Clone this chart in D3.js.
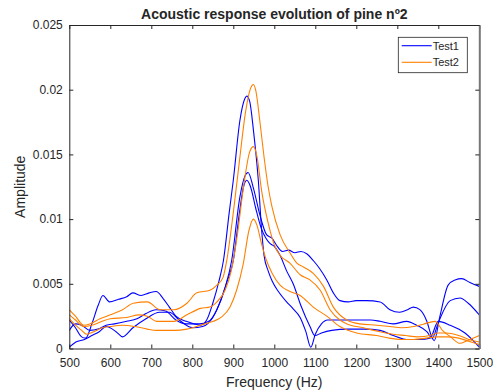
<!DOCTYPE html>
<html>
<head>
<meta charset="utf-8">
<script src="https://cdn.jsdelivr.net/npm/d3@7"></script>
<style>
  body { margin: 0; background: #fff; }
  text { font-family: Arial, "Liberation Sans", sans-serif; fill: #262626; }
</style>
</head>
<body>
<div id="chart"></div>
<script>
// tick values / labels
const freqTicks = [500, 600, 700, 800, 900, 1000, 1100, 1200, 1300, 1400, 1500];
const ampTicks = [0, 0.005, 0.01, 0.015, 0.02, 0.025];
const ampTickLabels = ["0", "0.005", "0.01", "0.015", "0.02", "0.025"];
const legendLabels = ["Test1", "Test2"];

// Test1 runs: [frequency Hz, amplitude]
const test1Run1 = [[500,0.0022],[515,0.0016],[530,0.0009],[540,0.0008],[555,0.0019],[570,0.0033],[582,0.0041],[598,0.0036],[620,0.0038],[640,0.004],[655,0.0043],[675,0.0041],[695,0.0043],[712,0.0044],[728,0.0039],[744,0.0032],[760,0.0025],[785,0.0021],[805,0.0019],[820,0.0018],[835,0.0022],[850,0.0035],[865,0.0052],[876,0.0068],[890,0.0105],[900,0.013],[916,0.0176],[928,0.0193],[933,0.0195],[940,0.0191],[949,0.0169],[961,0.013],[969,0.0092],[975,0.0072],[985,0.006],[995,0.0052],[1010,0.0044],[1030,0.0036],[1045,0.0031],[1063,0.0024],[1077,0.0013],[1089,0.0001],[1100,0.0011],[1115,0.0019],[1130,0.0022],[1160,0.0022],[1200,0.0022],[1235,0.0022],[1258,0.0021],[1290,0.0019],[1323,0.0021],[1347,0.0018],[1372,0.0013],[1385,0.0008],[1400,0.002],[1429,0.0037],[1453,0.0039],[1473,0.0035],[1500,0.0026]];
const test1Run2 = [[500,0.0014],[515,0.0019],[530,0.0018],[550,0.0014],[570,0.0015],[590,0.0018],[610,0.0019],[640,0.0021],[665,0.0023],[687,0.0027],[711,0.003],[735,0.0029],[760,0.0022],[785,0.0019],[817,0.0019],[840,0.0021],[860,0.003],[880,0.0047],[896,0.0068],[916,0.0117],[928,0.0133],[936,0.0136],[949,0.0124],[965,0.0103],[981,0.0088],[995,0.0085],[1005,0.008],[1020,0.0075],[1035,0.0076],[1050,0.0074],[1065,0.0075],[1080,0.0073],[1095,0.0068],[1110,0.0062],[1128,0.0053],[1144,0.0043],[1160,0.0037],[1180,0.0036],[1200,0.0037],[1225,0.0037],[1258,0.0036],[1282,0.003],[1306,0.0028],[1325,0.003],[1339,0.0032],[1355,0.003],[1372,0.0021],[1384,0.0009],[1390,0.0006],[1404,0.0025],[1424,0.0049],[1441,0.0053],[1457,0.0054],[1477,0.0051],[1500,0.0048]];
const test1Run3 = [[500,0.0001],[516,0.0005],[537,0.0007],[555,0.001],[573,0.0013],[590,0.0017],[614,0.0013],[630,0.0009],[655,0.0016],[687,0.0023],[720,0.0028],[744,0.0028],[768,0.0022],[801,0.0016],[825,0.0017],[850,0.0024],[870,0.0038],[885,0.0052],[900,0.0068],[915,0.0105],[925,0.0125],[933,0.013],[942,0.0125],[955,0.0108],[968,0.0093],[980,0.0085],[990,0.0081],[1000,0.0079],[1014,0.0072],[1030,0.006],[1046,0.005],[1065,0.0033],[1087,0.0017],[1099,0.001],[1115,0.0012],[1140,0.0014],[1180,0.0015],[1220,0.0015],[1258,0.0014],[1290,0.001],[1323,0.0007],[1355,0.0007],[1380,0.0008],[1400,0.0021],[1429,0.0018],[1465,0.0012],[1500,0.0001]];

// Test2 runs
const test2Run1 = [[500,0.003],[515,0.0025],[535,0.0018],[550,0.0019],[575,0.0023],[600,0.0026],[630,0.003],[656,0.0035],[690,0.0036],[722,0.003],[755,0.003],[787,0.0035],[811,0.0043],[843,0.0045],[860,0.0049],[875,0.0055],[884,0.0068],[900,0.0105],[915,0.0145],[930,0.0183],[942,0.0201],[949,0.0204],[955,0.0199],[965,0.0175],[975,0.0148],[985,0.0125],[994,0.011],[1014,0.0088],[1038,0.0074],[1055,0.0066],[1071,0.0063],[1095,0.0058],[1120,0.0048],[1144,0.0032],[1177,0.0022],[1209,0.0019],[1250,0.0018],[1282,0.0017],[1310,0.0016],[1340,0.0017],[1365,0.0019],[1392,0.0021],[1410,0.0014],[1430,0.0009],[1453,0.0004],[1470,0.0006],[1500,0.001]];
const test2Run2 = [[500,0.0026],[515,0.0022],[535,0.0017],[555,0.0018],[580,0.0021],[600,0.0023],[640,0.0024],[670,0.0026],[690,0.0025],[713,0.0021],[755,0.0021],[787,0.0026],[820,0.0031],[843,0.0032],[860,0.0036],[880,0.0045],[895,0.006],[910,0.0088],[925,0.0125],[940,0.0152],[949,0.0156],[958,0.0148],[969,0.0122],[985,0.0097],[1000,0.008],[1014,0.0072],[1038,0.0066],[1063,0.0057],[1087,0.0053],[1112,0.0045],[1136,0.003],[1160,0.0022],[1177,0.0019],[1217,0.0016],[1258,0.0013],[1290,0.0011],[1320,0.001],[1350,0.0009],[1380,0.001],[1400,0.0012],[1420,0.0012],[1450,0.001],[1475,0.0007],[1500,0.0005]];
const test2Run3 = [[500,0.0023],[515,0.0018],[530,0.0014],[542,0.0011],[560,0.0013],[580,0.0016],[600,0.0017],[630,0.0018],[660,0.0017],[690,0.0015],[713,0.0014],[755,0.0014],[787,0.0015],[820,0.0018],[851,0.0021],[870,0.0024],[892,0.0032],[908,0.0045],[924,0.0065],[938,0.0091],[949,0.01],[958,0.0095],[968,0.0082],[981,0.0068],[995,0.0058],[1014,0.0049],[1038,0.0044],[1063,0.0041],[1095,0.0032],[1128,0.0025],[1160,0.0017],[1201,0.0012],[1250,0.001],[1280,0.0008],[1310,0.0007],[1340,0.0007],[1370,0.0008],[1395,0.0009],[1420,0.0009],[1450,0.0008],[1480,0.0005],[1500,0.0003]];

const test1Color = "#0000ff";
const test2Color = "#ff8000";

const margin = { top: 25, right: 13.7, bottom: 43.5, left: 69.3 },
  width = 493 - margin.left - margin.right,
  height = 392 - margin.top - margin.bottom;

const svg = d3.select('#chart')
  .append('svg')
  .attr('width', 493)
  .attr('height', 392);

const g = svg.append('g')
  .attr('transform', 'translate(' + margin.left + ',' + margin.top + ')');

const x = d3.scaleLinear().domain([500, 1500]).range([0, width]);
const y = d3.scaleLinear().domain([0, 0.025]).range([height, 0]);

const line = d3.line()
  .x(d => x(d[0]))
  .y(d => y(d[1]))
  .curve(d3.curveMonotoneX);

g.append('clipPath').attr('id', 'clip')
  .append('rect').attr('width', width).attr('height', height);

const plot = g.append('g').attr('clip-path', 'url(#clip)');

[test1Run1, test1Run2, test1Run3].forEach(run => {
  plot.append('path').datum(run)
    .attr('fill', 'none').attr('stroke', test1Color).attr('stroke-width', 1.1)
    .attr('d', line);
});
[test2Run1, test2Run2, test2Run3].forEach(run => {
  plot.append('path').datum(run)
    .attr('fill', 'none').attr('stroke', test2Color).attr('stroke-width', 1.1)
    .attr('d', line);
});

// axes (ticks inside, box on)
const axisStyle = sel => {
  sel.selectAll('path').attr('stroke', '#262626');
  sel.selectAll('line').attr('stroke', '#262626');
  sel.selectAll('text').attr('font-size', '12px').attr('fill', '#262626');
};

g.append('g')
  .attr('transform', 'translate(0,' + height + ')')
  .call(d3.axisBottom(x).tickValues(freqTicks).tickSizeInner(-4).tickSizeOuter(0).tickPadding(10)
    .tickFormat(d => String(d)))
  .call(axisStyle);
g.append('g')
  .call(d3.axisTop(x).tickValues(freqTicks).tickSizeInner(-4).tickSizeOuter(0).tickFormat(''))
  .call(axisStyle);
g.append('g')
  .call(d3.axisLeft(y).tickValues(ampTicks).tickSizeInner(-4).tickSizeOuter(0).tickPadding(6.5)
    .tickFormat((d, i) => ampTickLabels[i]))
  .call(axisStyle);
g.append('g')
  .attr('transform', 'translate(' + width + ',0)')
  .call(d3.axisRight(y).tickValues(ampTicks).tickSizeInner(-4).tickSizeOuter(0).tickFormat(''))
  .call(axisStyle)
  .select('path').attr('stroke', '#777').attr('stroke-width', 2);

// title and labels
svg.append('text')
  .attr('x', margin.left + width / 2).attr('y', 18.5)
  .attr('text-anchor', 'middle').attr('font-size', '14px').attr('font-weight', 'bold')
  .attr('fill', '#000')
  .text('Acoustic response evolution of pine nº2');

svg.append('text')
  .attr('x', margin.left + width / 2).attr('y', 387)
  .attr('text-anchor', 'middle').attr('font-size', '14px')
  .text('Frequency (Hz)');

svg.append('text')
  .attr('transform', 'translate(24.5,' + (margin.top + height / 2) + ') rotate(-90)')
  .attr('text-anchor', 'middle').attr('font-size', '14px')
  .text('Amplitude');

// legend
const legend = svg.append('g').attr('transform', 'translate(398.3,37.3)');
legend.append('rect')
  .attr('width', 69).attr('height', 35.4)
  .attr('fill', '#fff').attr('stroke', '#262626').attr('stroke-width', 0.8);
legendLabels.forEach((lab, i) => {
  const ly = 8.4 + i * 16.6;
  legend.append('line')
    .attr('x1', 3.4).attr('x2', 33.4).attr('y1', ly).attr('y2', ly)
    .attr('stroke', i === 0 ? test1Color : test2Color).attr('stroke-width', 1.1);
  legend.append('text')
    .attr('x', 34.4).attr('y', ly + 4)
    .attr('font-size', '11px').attr('fill', '#000')
    .text(lab);
});
</script>
</body>
</html>
